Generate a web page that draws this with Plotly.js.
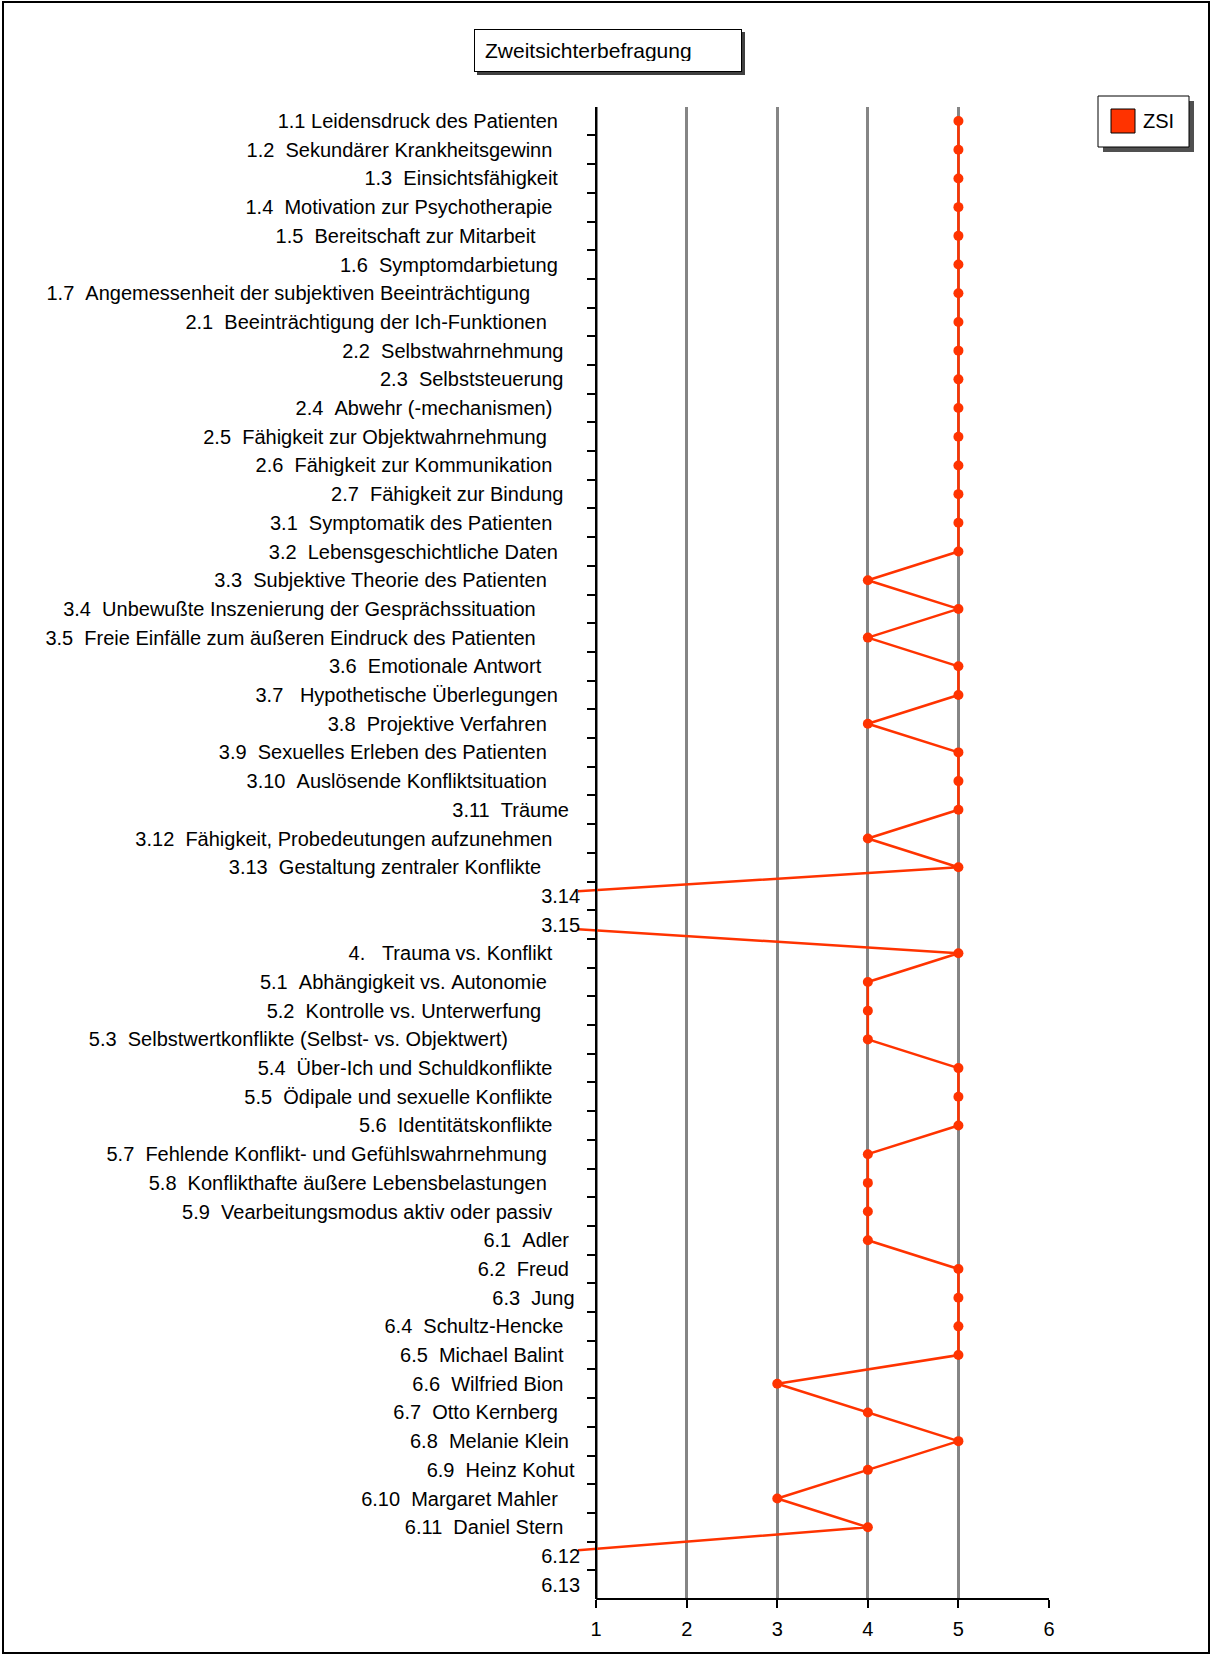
<!DOCTYPE html>
<html><head><meta charset="utf-8">
<script src="https://cdn.plot.ly/plotly-3.0.1.min.js"></script>
<style>html,body{margin:0;padding:0;background:#fff}</style>
</head><body><div id="chart" style="width:1212px;height:1656px"></div>
<script>
const chartTitle = "Zweitsichterbefragung";
const seriesName = "ZSI";
const itemLabels = [
"1.1 Leidensdruck des Patienten    ",
"1.2  Sekundärer Krankheitsgewinn     ",
"1.3  Einsichtsfähigkeit    ",
"1.4  Motivation zur Psychotherapie     ",
"1.5  Bereitschaft zur Mitarbeit        ",
"1.6  Symptomdarbietung    ",
"1.7  Angemessenheit der subjektiven Beeinträchtigung         ",
"2.1  Beeinträchtigung der Ich-Funktionen      ",
"2.2  Selbstwahrnehmung   ",
"2.3  Selbststeuerung   ",
"2.4  Abwehr (-mechanismen)     ",
"2.5  Fähigkeit zur Objektwahrnehmung      ",
"2.6  Fähigkeit zur Kommunikation     ",
"2.7  Fähigkeit zur Bindung   ",
"3.1  Symptomatik des Patienten     ",
"3.2  Lebensgeschichtliche Daten    ",
"3.3  Subjektive Theorie des Patienten      ",
"3.4  Unbewußte Inszenierung der Gesprächssituation        ",
"3.5  Freie Einfälle zum äußeren Eindruck des Patienten        ",
"3.6  Emotionale Antwort       ",
"3.7   Hypothetische Überlegungen    ",
"3.8  Projektive Verfahren      ",
"3.9  Sexuelles Erleben des Patienten      ",
"3.10  Auslösende Konfliktsituation      ",
"3.11  Träume  ",
"3.12  Fähigkeit, Probedeutungen aufzunehmen     ",
"3.13  Gestaltung zentraler Konflikte       ",
"3.14",
"3.15",
"4.   Trauma vs. Konflikt     ",
"5.1  Abhängigkeit vs. Autonomie      ",
"5.2  Kontrolle vs. Unterwerfung       ",
"5.3  Selbstwertkonflikte (Selbst- vs. Objektwert)             ",
"5.4  Über-Ich und Schuldkonflikte     ",
"5.5  Ödipale und sexuelle Konflikte     ",
"5.6  Identitätskonflikte     ",
"5.7  Fehlende Konflikt- und Gefühlswahrnehmung      ",
"5.8  Konflikthafte äußere Lebensbelastungen      ",
"5.9  Vearbeitungsmodus aktiv oder passiv     ",
"6.1  Adler  ",
"6.2  Freud  ",
"6.3  Jung ",
"6.4  Schultz-Hencke   ",
"6.5  Michael Balint   ",
"6.6  Wilfried Bion   ",
"6.7  Otto Kernberg    ",
"6.8  Melanie Klein  ",
"6.9  Heinz Kohut ",
"6.10  Margaret Mahler    ",
"6.11  Daniel Stern   ",
"6.12",
"6.13"
];
const zsiValues = [
5,5,5,5,5,5,5,
5,5,5,5,5,5,5,
5,5,4,5,4,5,5,4,5,5,5,4,5,0,0,
5,
4,4,4,5,5,5,4,4,4,
4,5,5,5,5,3,4,5,4,3,4,0,0
];
const xTickValues = [1,2,3,4,5,6];
const xTickLabels = ["1","2","3","4","5","6"];

const FONT = "Liberation Sans, Arial, sans-serif";
const RED = "#FF3300";
const W = 1212, H = 1656;
const L = 578, R = 1049, T = 107, B = 1599;
const xRange = [0.8, 6];
const px = v => (v - L) / (R - L);
const py = v => (B - v) / (B - T);
const xv = v => (v - xRange[0]) / (xRange[1] - xRange[0]);

const cats = itemLabels.map(s => s.replace(/ /g, "\u00a0"));

const trace = {
  type: "scatter", mode: "lines+markers",
  x: zsiValues, y: cats, name: seriesName, showlegend: false,
  line: {color: RED, width: 2.5},
  marker: {color: RED, size: 10},
  cliponaxis: true, hoverinfo: "skip"
};

const layout = {
  width: W, height: H,
  margin: {l: L, r: W - R, t: T, b: H - B, pad: 0},
  paper_bgcolor: "#fff", plot_bgcolor: "#fff",
  font: {family: FONT, size: 20, color: "#000"},
  showlegend: false,
  xaxis: {
    range: xRange, tickvals: xTickValues, ticktext: xTickLabels,
    ticks: "outside", ticklen: 8, tickwidth: 2, tickcolor: "#000",
    showgrid: true, gridcolor: "#858585", gridwidth: 3,
    zeroline: false, showline: false,
    tickfont: {family: FONT, size: 20, color: "#000"},
    ticklabelstandoff: 4, fixedrange: true
  },
  yaxis: {
    type: "category", categoryorder: "array", categoryarray: cats,
    range: [cats.length - 0.5, -0.49],
    anchor: "free", position: xv(1),
    ticks: "outside", tickson: "boundaries", ticklen: 8, tickwidth: 2, tickcolor: "#000",
    showline: true, linecolor: "#000", linewidth: 2,
    showgrid: false, zeroline: false,
    tickfont: {family: FONT, size: 20, color: "#000"},
    ticklabelstandoff: 11, fixedrange: true
  },
  shapes: [
    {type: "rect", xref: "paper", yref: "paper", x0: px(3), x1: px(1209), y0: py(1653), y1: py(2),
     line: {color: "#000", width: 2}, fillcolor: "rgba(0,0,0,0)"},
    {type: "line", xref: "paper", yref: "paper", x0: xv(1), x1: 1, y0: 0, y1: 0,
     line: {color: "#000", width: 2}},
    {type: "rect", xref: "paper", yref: "paper", x0: px(477), x1: px(745), y0: py(75), y1: py(32),
     line: {width: 0}, fillcolor: "#404040"},
    {type: "rect", xref: "paper", yref: "paper", x0: px(1103), x1: px(1194), y0: py(152), y1: py(101),
     line: {width: 0}, fillcolor: "#505050"},
    {type: "rect", xref: "paper", yref: "paper", x0: px(1098), x1: px(1189), y0: py(147), y1: py(96),
     line: {color: "#000", width: 1}, fillcolor: "#fff"},
    {type: "rect", xref: "paper", yref: "paper", x0: px(1111), x1: px(1135), y0: py(133), y1: py(109),
     line: {color: "#000", width: 1}, fillcolor: RED}
  ],
  annotations: [
    {xref: "paper", yref: "paper", x: px(474), y: py(29), xanchor: "left", yanchor: "top",
     showarrow: false, text: chartTitle, font: {family: FONT, size: 21, color: "#000"},
     align: "left", bgcolor: "#fff", bordercolor: "#000", borderwidth: 1, borderpad: 10,
     width: 246, height: 21},
    {xref: "paper", yref: "paper", x: px(1141), y: py(121), xanchor: "left", yanchor: "middle",
     showarrow: false, text: seriesName, font: {family: FONT, size: 20, color: "#000"}}
  ]
};

Plotly.newPlot("chart", [trace], layout, {staticPlot: true, displayModeBar: false});
</script>
</body></html>
